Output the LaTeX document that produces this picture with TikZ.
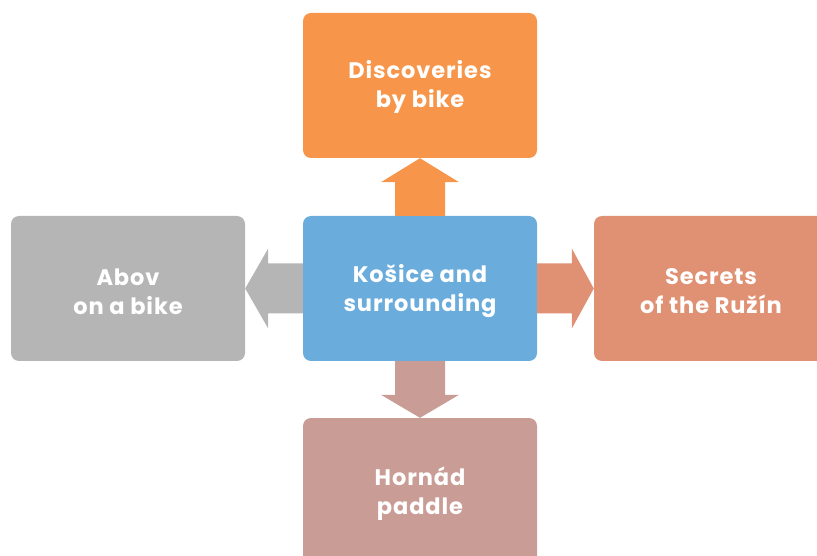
\documentclass[tikz,border=0pt]{standalone}
\usepackage{fontspec}
\setmainfont{Poppins}[BoldFont={* Bold}, LetterSpace=4]
\usetikzlibrary{calc}
\definecolor{corange}{HTML}{F7964A}
\definecolor{cblue}{HTML}{6AACDC}
\definecolor{cgray}{HTML}{B5B5B5}
\definecolor{csalmon}{HTML}{E09173}
\definecolor{crose}{HTML}{C99D95}
\tikzset{
  box/.style={rectangle, rounded corners=8pt, minimum width=234pt, minimum height=145pt,
    inner sep=0pt},
  boxtext/.style={inner sep=0pt, text=white, align=center, font=\fontsize{22.5}{29}\selectfont\bfseries},
}
\begin{document}
\begin{tikzpicture}[x=1pt,y=1pt]
\useasboundingbox (0,0) rectangle (817,555);
\clip (0,0) rectangle (817,555);
\node[box, fill=cblue] (c) at (420,266.5) {};
\node[box, fill=corange] (t) at (420,469.5) {};
\node[box, fill=cgray] (l) at (128,266.5) {};
\node[box, fill=csalmon] (r) at (711,266.5) {};
\node[box, fill=crose] (b) at (420,64.5) {};
\node[boxtext] (ct) at ([yshift=-3pt]c.center) {Košice and\\surrounding};
\node[boxtext] (tt) at ([yshift=-1pt]t.center) {Discoveries\\by bike};
\node[boxtext] (lt) at ([yshift=-3pt]l.center) {Abov\\on a bike};
\node[boxtext] (rt) at ([yshift=-3pt]r.center) {Secrets\\of the Ružín};
\node[boxtext] (bt) at ([yshift=-3pt]b.center) {Hornád\\paddle};
% up
\fill[corange] ($(c.north)+(-25,0)$) -- ($(t.south)+(-25,-24)$) -- ($(t.south)+(-39,-24)$) -- (t.south)
  -- ($(t.south)+(39,-24)$) -- ($(t.south)+(25,-24)$) -- ($(c.north)+(25,0)$) -- cycle;
% down
\fill[crose] ($(c.south)+(-25,0)$) -- ($(b.north)+(-25,23)$) -- ($(b.north)+(-39,23)$) -- (b.north)
  -- ($(b.north)+(39,23)$) -- ($(b.north)+(25,23)$) -- ($(c.south)+(25,0)$) -- cycle;
% left
\fill[cgray] ($(c.west)+(0,25)$) -- ($(l.east)+(23,25)$) -- ($(l.east)+(23,40)$) -- (l.east)
  -- ($(l.east)+(23,-40)$) -- ($(l.east)+(23,-25)$) -- ($(c.west)+(0,-25)$) -- cycle;
% right
\fill[csalmon] ($(c.east)+(0,25)$) -- ($(r.west)+(-22,25)$) -- ($(r.west)+(-22,40)$) -- (r.west)
  -- ($(r.west)+(-22,-40)$) -- ($(r.west)+(-22,-25)$) -- ($(c.east)+(0,-25)$) -- cycle;
\end{tikzpicture}
\end{document}
